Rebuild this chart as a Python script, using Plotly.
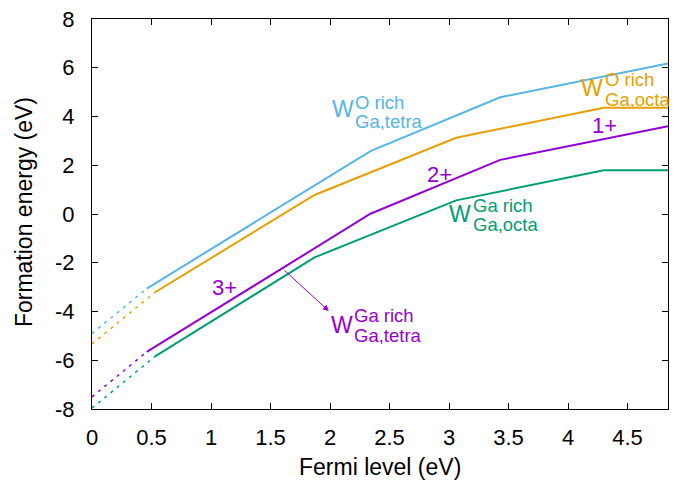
import plotly.graph_objects as go

# Transition-level kinks (Fermi level, eV)
x_tetra = [0.46, 2.34, 3.43, 4.84]
x_octa = [0.53, 1.87, 3.06, 4.30, 4.84]

# Formation energies (eV), solid parts
y_O_tetra = [-3.06, 2.58, 4.79, 6.18]
y_O_octa = [-3.21, 0.78, 3.13, 4.36, 4.36]
y_Ga_tetra = [-5.66, 0.01, 2.22, 3.60]
y_Ga_octa = [-5.84, -1.78, 0.56, 1.79, 1.79]

# Dashed extensions to Fermi level 0
y0_O_tetra = -4.90
y0_O_octa = -5.33
y0_Ga_tetra = -7.50
y0_Ga_octa = -7.96

x_ticks = [0, 0.5, 1, 1.5, 2, 2.5, 3, 3.5, 4, 4.5]
x_ticktext = ["0", "0.5", "1", "1.5", "2", "2.5", "3", "3.5", "4", "4.5"]
y_ticks = [-8, -6, -4, -2, 0, 2, 4, 6, 8]
y_ticktext = ["-8", "-6", "-4", "-2", "0", "2", "4", "6", "8"]

c_blue = "#56B4E9"
c_orange = "#E69F00"
c_purple = "#9400D3"
c_green = "#009E73"

FONT = "Liberation Sans, Arial, Helvetica, sans-serif"

fig = go.Figure()

series = [
    (x_tetra, y_O_tetra, y0_O_tetra, c_blue),
    (x_octa, y_O_octa, y0_O_octa, c_orange),
    (x_tetra, y_Ga_tetra, y0_Ga_tetra, c_purple),
    (x_octa, y_Ga_octa, y0_Ga_octa, c_green),
]
for xs, ys, y0, col in series:
    fig.add_trace(go.Scatter(x=[0, xs[0]], y=[y0, ys[0]], mode="lines",
                             line=dict(color=col, width=1.5, dash="3px,5px"),
                             showlegend=False, hoverinfo="skip"))
    fig.add_trace(go.Scatter(x=xs, y=ys, mode="lines",
                             line=dict(color=col, width=2),
                             showlegend=False))

W_SIZE = 23
S_SIZE = 18.5


def label(x_w, y_w, x_s, y_sup, y_sub, sup, sub, col):
    fig.add_annotation(x=x_w, y=y_w, text="W", showarrow=False, xanchor="left",
                       yanchor="middle", borderpad=0,
                       font=dict(size=W_SIZE, color=col, family=FONT))
    for yy, t in [(y_sup, sup), (y_sub, sub)]:
        fig.add_annotation(x=x_s, y=yy, text=t, showarrow=False, xanchor="left",
                           yanchor="middle", borderpad=0, height=17, valign="middle",
                           font=dict(size=S_SIZE, color=col, family=FONT))


label(2.005, 4.31, 2.20, 4.56, 3.78, "O rich", "Ga,tetra", c_blue)
label(4.10, 5.17, 4.30, 5.50, 4.70, "O rich", "Ga,octa", c_orange)
label(2.99, 0.00, 3.19, 0.35, -0.43, "Ga rich", "Ga,octa", c_green)
label(2.00, -4.55, 2.195, -4.18, -4.98, "Ga rich", "Ga,tetra", c_purple)

for x, y, t in [(4.31, 3.65, "1+"), (2.92, 1.62, "2+"), (1.11, -3.02, "3+")]:
    fig.add_annotation(x=x, y=y, text=t, showarrow=False, xanchor="center",
                       yanchor="middle", borderpad=0,
                       font=dict(size=22, color=c_purple, family=FONT))

fig.add_annotation(x=1.99, y=-3.98, ax=1.605, ay=-2.26, xref="x", yref="y",
                   axref="x", ayref="y", text="", showarrow=True,
                   arrowhead=2, arrowsize=1.2, arrowwidth=1, arrowcolor=c_purple)

# Axis titles placed in paper coordinates
fig.add_annotation(x=0.5, y=-0.149, xref="paper", yref="paper", text="Fermi level (eV)",
                   showarrow=False, xanchor="center", yanchor="middle",
                   font=dict(size=23, color="black", family=FONT))
fig.add_annotation(x=-0.118, y=0.505, xref="paper", yref="paper", text="Formation energy (eV)",
                   showarrow=False, xanchor="center", yanchor="middle", textangle=-90,
                   font=dict(size=23, color="black", family=FONT))

axis_common = dict(showgrid=False, zeroline=False, showline=True, linecolor="black",
                   linewidth=1.2, mirror="ticks", ticks="inside", ticklen=6,
                   tickwidth=1, tickcolor="black", automargin=False,
                   ticklabeloverflow="allow",
                   tickfont=dict(size=22, color="black", family=FONT))

fig.update_xaxes(range=[0, 4.84], tickvals=x_ticks, ticktext=x_ticktext,
                 ticklabelstandoff=8, **axis_common)
fig.update_yaxes(range=[-8, 8], tickvals=y_ticks, ticktext=y_ticktext,
                 ticklabelstandoff=12, **axis_common)

# The page body adds an 8px offset; sizes/margins compensate so the plot
# area lands at the reference position.
fig.update_layout(width=669, height=472, margin=dict(l=84, r=9, t=11, b=71),
                  plot_bgcolor="white", paper_bgcolor="white",
                  font=dict(family=FONT, color="black"))

fig.write_html("out.html")
